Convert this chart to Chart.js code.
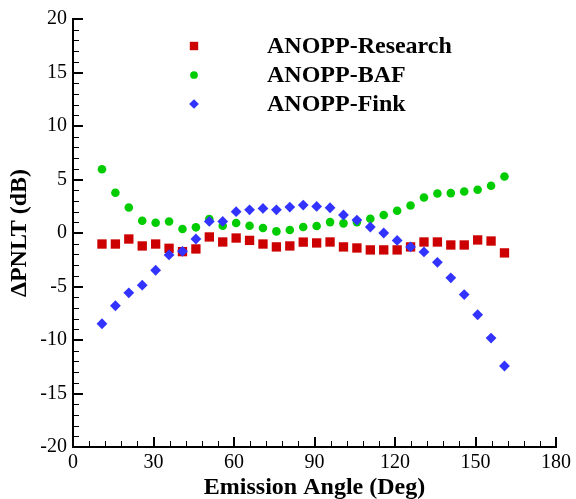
<!DOCTYPE html>
<html>
<head>
<meta charset="utf-8">
<script src="https://cdn.jsdelivr.net/npm/chart.js@4.4.0/dist/chart.umd.min.js"></script>
<style>
html, body { margin: 0; padding: 0; background: #fff; }
#kutu { width: 576px; height: 499px; }
</style>
</head>
<body>
<div id="kutu"><canvas id="grafik" width="576" height="499"></canvas></div>
<script>
// emisyon acilari (derece)
var acilar = [10.8, 15.8, 20.8, 25.8, 30.8, 35.8, 40.8, 45.8, 50.8, 55.8, 60.8, 65.8, 70.8, 75.8, 80.8, 85.8,
              90.8, 95.8, 100.8, 105.8, 110.8, 115.8, 120.8, 125.8, 130.8, 135.8, 140.8, 145.8, 150.8, 155.8, 160.8];

// delta PNLT degerleri (dB)
var research = [-1.03, -1.03, -0.56, -1.21, -1.03, -1.43, -1.74, -1.49, -0.37, -0.84, -0.47, -0.69, -1.03, -1.30, -1.21, -0.85,
                -0.93, -0.84, -1.30, -1.40, -1.58, -1.58, -1.58, -1.30, -0.84, -0.84, -1.12, -1.12, -0.65, -0.75, -1.86];
var baf = [5.96, 3.76, 2.39, 1.15, 0.96, 1.08, 0.37, 0.53, 1.30, 0.68, 0.93, 0.68, 0.47, 0.15, 0.28, 0.56,
           0.66, 1.02, 0.90, 1.02, 1.33, 1.68, 2.08, 2.57, 3.32, 3.69, 3.73, 3.88, 4.04, 4.41, 5.28];
var fink = [-8.48, -6.80, -5.59, -4.88, -3.48, -2.05, -1.71, -0.56, 1.08, 1.08, 1.99, 2.17, 2.30, 2.17, 2.42, 2.61,
            2.48, 2.36, 1.68, 1.21, 0.56, 0.00, -0.69, -1.30, -1.77, -2.74, -4.19, -5.75, -7.64, -9.82, -12.43];

var seriAdlari = ["ANOPP-Research", "ANOPP-BAF", "ANOPP-Fink"];
var xTikleri = [0, 30, 60, 90, 120, 150, 180];
var yTikleri = [-20, -15, -10, -5, 0, 5, 10, 15, 20];

var yazi = "'Liberation Serif', 'Times New Roman', serif";
Chart.defaults.font.family = yazi;
Chart.defaults.color = "#000";

function noktalar(degerler) {
    var sonuc = [];
    for (let i = 0; i < acilar.length; i++) {
        sonuc.push({ x: acilar[i], y: degerler[i] });
    }
    return sonuc;
}

// eksenlerin ic tarafina cizilen buyuk ve kucuk tikler
var icTikler = {
    id: "icTikler",
    beforeDatasetsDraw: function (chart) {
        var ctx = chart.ctx;
        var xs = chart.scales.x, ys = chart.scales.y;
        var alt = chart.chartArea.bottom, sol = chart.chartArea.left;
        ctx.save();
        ctx.strokeStyle = "#000";
        for (let v = 0; v <= 180; v += 6) {
            var buyuk = v % 30 == 0;
            var px = Math.round(xs.getPixelForValue(v));
            ctx.lineWidth = buyuk ? 2 : 1;
            ctx.beginPath();
            ctx.moveTo(px + (buyuk ? 0 : 0.5), alt);
            ctx.lineTo(px + (buyuk ? 0 : 0.5), alt - (buyuk ? 10 : 6));
            ctx.stroke();
        }
        for (let v = -20; v <= 20; v += 1) {
            var buyuk2 = v % 5 == 0;
            var py = Math.round(ys.getPixelForValue(v));
            ctx.lineWidth = buyuk2 ? 2 : 1;
            ctx.beginPath();
            ctx.moveTo(sol, py + (buyuk2 ? 0 : 0.5));
            ctx.lineTo(sol + (buyuk2 ? 10 : 6), py + (buyuk2 ? 0 : 0.5));
            ctx.stroke();
        }
        ctx.restore();
    }
};

// grafik icindeki lejant
var icLejant = {
    id: "icLejant",
    afterDraw: function (chart) {
        var ctx = chart.ctx;
        ctx.save();
        chart.data.datasets.forEach(function (ds, i) {
            var y = 46 + i * 29;
            ctx.fillStyle = ds.backgroundColor;
            Chart.helpers.drawPoint(ctx, {
                pointStyle: ds.pointStyle,
                radius: ds.pointRadius * 0.9,
                rotation: 0,
                borderWidth: 0
            }, 194, y);
            ctx.fillStyle = "#000";
            ctx.font = "bold 24px " + yazi;
            ctx.textAlign = "left";
            ctx.textBaseline = "middle";
            ctx.fillText(ds.label, 267, y + 1);
        });
        ctx.restore();
    }
};

var grafik = new Chart(document.getElementById("grafik").getContext("2d"), {
    type: "scatter",
    data: {
        datasets: [{
            label: seriAdlari[0],
            data: noktalar(research),
            pointStyle: "rect",
            pointRadius: 6.6,
            backgroundColor: "#cc0000",
            borderWidth: 0,
            order: 3
        }, {
            label: seriAdlari[1],
            data: noktalar(baf),
            pointStyle: "circle",
            pointRadius: 4.3,
            backgroundColor: "#00cc00",
            borderWidth: 0,
            order: 2
        }, {
            label: seriAdlari[2],
            data: noktalar(fink),
            pointStyle: "rectRot",
            pointRadius: 5.4,
            backgroundColor: "#3333ff",
            borderWidth: 0,
            order: 1
        }]
    },
    options: {
        responsive: false,
        animation: false,
        layout: { padding: { top: 19, right: 20, left: 0, bottom: 0 } },
        plugins: {
            legend: { display: false },
            tooltip: { enabled: false }
        },
        scales: {
            x: {
                type: "linear",
                min: 0,
                max: 180,
                afterFit: function (s) { s.height = 52; },
                afterBuildTicks: function (s) { s.ticks = xTikleri.map(function (v) { return { value: v }; }); },
                grid: { display: false, drawTicks: false },
                border: { display: true, color: "#000", width: 2 },
                ticks: { padding: 4, font: { family: yazi, size: 20 }, maxRotation: 0 },
                title: {
                    display: true,
                    text: "Emission Angle (Deg)",
                    font: { family: yazi, size: 24, weight: "bold", lineHeight: 1 },
                    padding: { top: 0, bottom: -1 }
                }
            },
            y: {
                type: "linear",
                min: -20,
                max: 20,
                afterFit: function (s) { s.width = 73; },
                afterBuildTicks: function (s) { s.ticks = yTikleri.map(function (v) { return { value: v }; }); },
                grid: { display: false, drawTicks: false },
                border: { display: true, color: "#000", width: 2 },
                ticks: { padding: 6, font: { family: yazi, size: 20 } },
                title: {
                    display: true,
                    text: "ΔPNLT (dB)",
                    font: { family: yazi, size: 24, weight: "bold", lineHeight: 1 },
                    padding: { top: 8, bottom: 0 }
                }
            }
        }
    },
    plugins: [icTikler, icLejant]
});
</script>
</body>
</html>
